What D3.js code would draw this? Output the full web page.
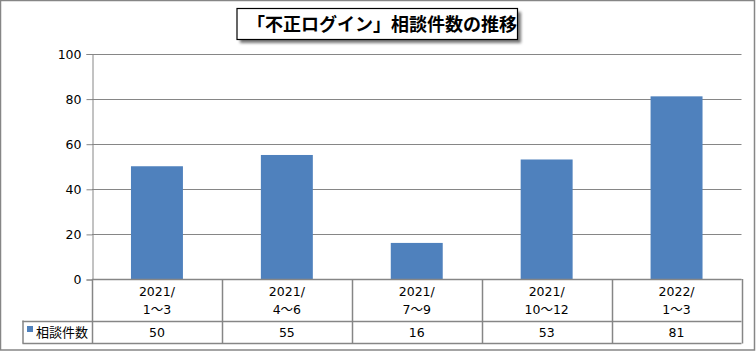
<!DOCTYPE html>
<html>
<head>
<meta charset="utf-8">
<script src="https://cdn.jsdelivr.net/npm/d3@7"></script>
<style>
  body { margin: 0; background: #fff; }
  text { font-family: "DejaVu Sans", "Noto Sans CJK JP", sans-serif; fill: #000; }
</style>
</head>
<body>
<div id="chart"></div>
<script>
// chart data
const titleText = "「不正ログイン」相談件数の推移";
const seriesName = "相談件数";
const yearLabels = ["2021/", "2021/", "2021/", "2021/", "2022/"];
const quarterLabels = ["1～3", "4～6", "7～9", "10～12", "1～3"];
const counts = [50, 55, 16, 53, 81];
const yTicks = [0, 20, 40, 60, 80, 100];

const width = 756;
const height = 351;
const grey = "#868686";
const barColor = "#4f81bd";
const labelFont = "'DejaVu Sans', 'Noto Sans CJK JP', sans-serif";

const plot = { left: 92, right: 741.5, top: 53.5, bottom: 279 };
const catRowBottom = 320.5;
const dataRowBottom = 343;
const tableLeft = 22.5;

const svg = d3.select("#chart")
    .append("svg")
    .attr("width", width)
    .attr("height", height);

// outer frame
svg.append("rect")
    .attr("x", 0.5)
    .attr("y", 0.5)
    .attr("width", 754)
    .attr("height", 349.5)
    .attr("fill", "#fff")
    .attr("stroke", grey)
    .attr("stroke-width", 1.5);

const cats = counts.map((d, i) => i);

const xScale = d3.scaleBand()
    .domain(cats)
    .range([plot.left, plot.right])
    .paddingInner(0)
    .paddingOuter(0);

const yScale = d3.scaleLinear()
    .domain([0, 100])
    .range([plot.bottom, plot.top]);

// gridlines
svg.append("g")
    .selectAll("line")
    .data(yTicks)
    .enter()
    .append("line")
    .attr("x1", plot.left)
    .attr("x2", plot.right)
    .attr("y1", d => Math.round(yScale(d)) + 0.5)
    .attr("y2", d => Math.round(yScale(d)) + 0.5)
    .attr("stroke", grey)
    .attr("stroke-width", 1);

// y axis
const yAxis = svg.append("g")
    .attr("transform", `translate(${plot.left + 0.5},0.5)`)
    .call(d3.axisLeft(yScale).tickValues(yTicks).tickSize(6).tickPadding(5));

yAxis.select(".domain").attr("stroke", grey);
yAxis.selectAll(".tick line").attr("stroke", grey);
yAxis.selectAll("text")
    .style("font-size", "12.5px")
    .style("font-family", labelFont)
    .attr("fill", "#000");

// bars
const barW = xScale.bandwidth() * 0.4;
svg.append("g")
    .selectAll("rect")
    .data(counts)
    .enter()
    .append("rect")
    .attr("x", (d, i) => xScale(i) + (xScale.bandwidth() - barW) / 2)
    .attr("y", d => yScale(d))
    .attr("width", barW)
    .attr("height", d => yScale(0) - yScale(d))
    .attr("fill", barColor);

// data table
const table = svg.append("g");

// horizontal lines of the table
[[plot.left, plot.bottom], [tableLeft, catRowBottom], [tableLeft, dataRowBottom]].forEach(([x1, y]) => {
    table.append("line")
        .attr("x1", x1)
        .attr("x2", plot.right)
        .attr("y1", Math.round(y) + 0.5)
        .attr("y2", Math.round(y) + 0.5)
        .attr("stroke", grey)
        .attr("stroke-width", 1.5);
});

// vertical lines
const colEdges = cats.map(i => xScale(i)).concat([plot.right]);
table.selectAll(".vline")
    .data(colEdges)
    .enter()
    .append("line")
    .attr("class", "vline")
    .attr("x1", d => Math.round(d) + 0.5)
    .attr("x2", d => Math.round(d) + 0.5)
    .attr("y1", plot.bottom)
    .attr("y2", dataRowBottom + 0.5)
    .attr("stroke", grey)
    .attr("stroke-width", 1.5);

table.append("line")
    .attr("x1", tableLeft + 0.5)
    .attr("x2", tableLeft + 0.5)
    .attr("y1", catRowBottom)
    .attr("y2", dataRowBottom + 0.5)
    .attr("stroke", grey)
    .attr("stroke-width", 1.5);

// category labels
table.selectAll(".yr")
    .data(yearLabels)
    .enter()
    .append("text")
    .attr("x", (d, i) => xScale(i) + xScale.bandwidth() / 2)
    .attr("y", 296)
    .attr("text-anchor", "middle")
    .style("font-size", "12.5px")
    .text(d => d);

table.selectAll(".qt")
    .data(quarterLabels)
    .enter()
    .append("text")
    .attr("x", (d, i) => xScale(i) + xScale.bandwidth() / 2)
    .attr("y", 314)
    .attr("text-anchor", "middle")
    .style("font-size", "12.5px")
    .text(d => d);

// values row
table.selectAll(".val")
    .data(counts)
    .enter()
    .append("text")
    .attr("x", (d, i) => xScale(i) + xScale.bandwidth() / 2)
    .attr("y", 337)
    .attr("text-anchor", "middle")
    .style("font-size", "12.5px")
    .text(d => d);

// legend key
table.append("rect")
    .attr("x", 27)
    .attr("y", 326)
    .attr("width", 6)
    .attr("height", 6)
    .attr("fill", barColor);

table.append("text")
    .attr("x", 36)
    .attr("y", 337)
    .style("font-size", "13px")
    .style("font-family", "'Noto Sans CJK JP', sans-serif")
    .text(seriesName);

// title box with shadow
const defs = svg.append("defs");
const filter = defs.append("filter").attr("id", "shadow").attr("x", "-10%").attr("y", "-30%").attr("width", "130%").attr("height", "180%");
filter.append("feGaussianBlur").attr("stdDeviation", 1.8);

svg.append("rect")
    .attr("x", 240)
    .attr("y", 12)
    .attr("width", 281)
    .attr("height", 31)
    .attr("fill", "#777")
    .attr("filter", "url(#shadow)");

svg.append("rect")
    .attr("x", 237)
    .attr("y", 8.5)
    .attr("width", 280.5)
    .attr("height", 31)
    .attr("fill", "#fff")
    .attr("stroke", "#000")
    .attr("stroke-width", 1.2);

svg.append("text")
    .attr("x", 382)
    .attr("y", 31)
    .attr("text-anchor", "middle")
    .style("font-size", "18px")
    .style("font-weight", "bold")
    .style("font-family", "'Noto Sans CJK JP', sans-serif")
    .text(titleText);
</script>
</body>
</html>
